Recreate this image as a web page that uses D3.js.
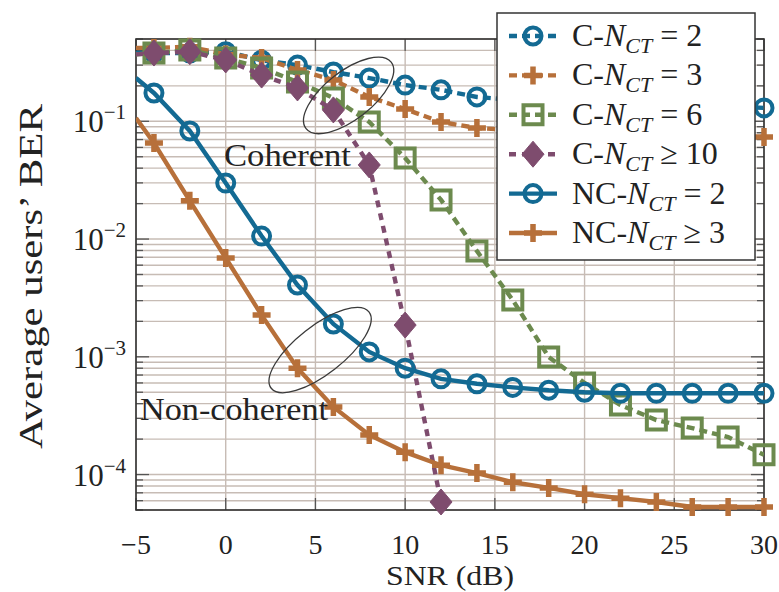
<!DOCTYPE html>
<html>
<head>
<meta charset="utf-8">
<script src="https://cdn.jsdelivr.net/npm/d3@7"></script>
<style>
  body { margin: 0; background: #fff; }
  svg text { font-family: "Liberation Serif", "Times New Roman", serif; fill: #222; }
</style>
</head>
<body>
<svg id="chart" width="779" height="592"></svg>
<script>
// SNR in dB; -5 only carries the lines to the left edge, marks start at -4
var snr = [-5, -4, -2, 0, 2, 4, 6, 8, 10, 12, 14, 16, 18, 20, 22, 24, 26, 28, 30];

// average users' BER
var berC2  = [0.38, 0.38, 0.38, 0.39, 0.33, 0.30, 0.262, 0.233, 0.203, 0.185, 0.161, 0.152, 0.148, 0.145, 0.142, 0.14, 0.138, 0.135, 0.13];
var berC3  = [0.42, 0.42, 0.43, 0.37, 0.345, 0.273, 0.224, 0.161, 0.127, 0.0986, 0.0877, 0.084, 0.081, 0.079, 0.077, 0.076, 0.075, 0.074, 0.0735];
var berC6  = [0.37, 0.38, 0.404, 0.345, 0.284, 0.216, 0.158, 0.0986, 0.0488, 0.0215, 0.0079, 0.00303, 0.000995, 0.0006, 0.00039, 0.00029, 0.000248, 0.000208, 0.000147];
var berC10 = [0.37, 0.38, 0.39, 0.332, 0.247, 0.192, 0.125, 0.0426, 0.00186, 0.0000585, null, null, null, null, null, null, null, null, null];
var berNC2 = [0.233, 0.174, 0.0828, 0.0299, 0.0106, 0.00407, 0.0019, 0.0011, 0.0008, 0.00065, 0.00059, 0.00055, 0.00052, 0.0005, 0.00049, 0.00049, 0.00049, 0.00049, 0.00049];
var berNC3 = [0.1067, 0.0654, 0.0211, 0.0069, 0.00226, 0.0008, 0.000375, 0.000217, 0.000155, 0.00012, 0.000103, 0.000086, 0.000077, 0.000068, 0.000063, 0.0000585, 0.000053, 0.000053, 0.000053];

var legendPrefix = ["C-", "C-", "C-", "C-", "NC-", "NC-"];
var legendRel = ["= 2", "= 3", "= 6", "\u2265 10", "= 2", "\u2265 3"];

var xTicks = [-5, 0, 5, 10, 15, 20, 25, 30];
var yDecades = [1e-4, 1e-3, 1e-2, 1e-1];
var yTickExp = ["\u22124", "\u22123", "\u22122", "\u22121"];

var series = [
  {values: berC2,  color: "#136a93", dash: "8,5", marker: "circle"},
  {values: berC3,  color: "#b7703a", dash: "8,5", marker: "plus"},
  {values: berC6,  color: "#6c8a4e", dash: "8,5", marker: "square"},
  {values: berC10, color: "#7e4c6e", dash: "7,6", marker: "diamond"},
  {values: berNC2, color: "#136a93", dash: null,  marker: "circle"},
  {values: berNC3, color: "#b7703a", dash: null,  marker: "plus"}
];

var L = 136, R = 764, T = 39, B = 510;
var svg = d3.select("#chart");
var x = d3.scaleLinear().domain([-5, 30]).range([L, R]);
var y = d3.scaleLog().domain([5e-5, 0.5]).range([B, T]);

svg.append("rect").attr("width", 779).attr("height", 592).attr("fill", "#fff");

// grid
var gridColor = "#c7bcb5";
svg.append("g").selectAll("line").data(y.ticks()).join("line")
  .attr("x1", L).attr("x2", R)
  .attr("y1", function(d) { return y(d); }).attr("y2", function(d) { return y(d); })
  .attr("stroke", gridColor).attr("stroke-width", 1.4);
svg.append("g").selectAll("line").data(xTicks).join("line")
  .attr("x1", function(d) { return x(d); }).attr("x2", function(d) { return x(d); })
  .attr("y1", T).attr("y2", B)
  .attr("stroke", gridColor).attr("stroke-width", 1.4);

// inward ticks
var isDecade = function(d) { return Math.abs(Math.log10(d) - Math.round(Math.log10(d))) < 1e-6; };
var tickG = svg.append("g").attr("stroke", "#555").attr("stroke-width", 1.3);
y.ticks().forEach(function(d) {
  var len = isDecade(d) ? 13 : 7;
  tickG.append("line").attr("x1", L).attr("x2", L + len).attr("y1", y(d)).attr("y2", y(d));
  tickG.append("line").attr("x1", R).attr("x2", R - len).attr("y1", y(d)).attr("y2", y(d));
});
xTicks.forEach(function(d) {
  tickG.append("line").attr("x1", x(d)).attr("x2", x(d)).attr("y1", B).attr("y2", B - 12);
  tickG.append("line").attr("x1", x(d)).attr("x2", x(d)).attr("y1", T).attr("y2", T + 12);
});

svg.append("rect").attr("x", L).attr("y", T).attr("width", R - L).attr("height", B - T)
  .attr("fill", "none").attr("stroke", "#333").attr("stroke-width", 1.6);

// tick labels
svg.append("g").selectAll("text").data(xTicks).join("text")
  .attr("x", function(d) { return x(d); }).attr("y", 554)
  .attr("text-anchor", "middle").attr("font-size", 28)
  .text(function(d) { return d < 0 ? "\u2212" + Math.abs(d) : d; });

var yl = svg.append("g").selectAll("text").data(yDecades).join("text")
  .attr("x", 126).attr("y", function(d) { return y(d) + 11; })
  .attr("text-anchor", "end").attr("font-size", 31);
yl.append("tspan").text("10");
yl.append("tspan").attr("dy", -13).attr("font-size", 21).text(function(d, i) { return yTickExp[i]; });

svg.append("text").attr("x", 450).attr("y", 585).attr("text-anchor", "middle")
  .attr("font-size", 27).attr("textLength", 128).attr("lengthAdjust", "spacingAndGlyphs").text("SNR (dB)");
svg.append("text").attr("transform", "translate(42," + ((T + B) / 2 + 2) + ") rotate(-90)")
  .attr("text-anchor", "middle").attr("font-size", 33)
  .attr("textLength", 345).attr("lengthAdjust", "spacingAndGlyphs").text("Average users\u2019 BER");

// markers
function markerPath(type) {
  if (type === "circle") return "M8.5,0A8.5,8.5 0 1 1 -8.5,0A8.5,8.5 0 1 1 8.5,0Z";
  if (type === "plus") return "M-9,0H9M0,-9V9";
  if (type === "square") return "M-9.5,-9.5H9.5V9.5H-9.5Z";
  return "M0,-13L11,0L0,13L-11,0Z";
}
function drawMarker(g, type, color) {
  var p = g.append("path").attr("d", markerPath(type));
  if (type === "diamond") p.attr("fill", color).attr("stroke", color).attr("stroke-width", 1);
  else p.attr("fill", "none").attr("stroke", color).attr("stroke-width", type === "plus" ? 5.5 : 4);
}

svg.append("clipPath").attr("id", "plotClip").append("rect")
  .attr("x", L).attr("y", T).attr("width", R - L).attr("height", B - T);

var line = d3.line()
  .defined(function(d) { return d.v != null; })
  .x(function(d) { return x(d.s); })
  .y(function(d) { return y(d.v); });

series.forEach(function(sr) {
  var pts = snr.map(function(s, i) { return {s: s, v: sr.values[i]}; });
  svg.append("path").datum(pts).attr("clip-path", "url(#plotClip)")
    .attr("d", line).attr("fill", "none").attr("stroke", sr.color)
    .attr("stroke-width", 4.4).attr("stroke-dasharray", sr.dash);
  pts.filter(function(d) { return d.s >= -4 && d.v != null; }).forEach(function(d) {
    var g = svg.append("g").attr("transform", "translate(" + x(d.s) + "," + y(d.v) + ")");
    drawMarker(g, sr.marker, sr.color);
  });
});

// annotations
function ellipse(cx, cy, rx, ry, angle) {
  svg.append("ellipse").attr("cx", 0).attr("cy", 0).attr("rx", rx).attr("ry", ry)
    .attr("transform", "translate(" + x(cx) + "," + y(cy) + ") rotate(" + angle + ")")
    .attr("fill", "none").attr("stroke", "#3a3a3a").attr("stroke-width", 1.3);
}
ellipse(6.85, 0.166, 54, 24, -38);
ellipse(5.26, 1.14e-3, 62, 24, -38);
svg.append("text").attr("x", 224).attr("y", 166).attr("font-size", 31)
  .attr("textLength", 127).attr("lengthAdjust", "spacingAndGlyphs").text("Coherent");
svg.append("text").attr("x", 140).attr("y", 420).attr("font-size", 31)
  .attr("textLength", 188).attr("lengthAdjust", "spacingAndGlyphs").text("Non-coherent");

// legend
var lg = svg.append("g");
lg.append("rect").attr("x", 497).attr("y", 13).attr("width", 258).attr("height", 247)
  .attr("fill", "#fff").attr("stroke", "#333").attr("stroke-width", 1.5);
series.forEach(function(sr, i) {
  var ry = 36 + i * 39.4;
  lg.append("line").attr("x1", 509).attr("x2", 557).attr("y1", ry).attr("y2", ry)
    .attr("stroke", sr.color).attr("stroke-width", 4.4).attr("stroke-dasharray", sr.dash);
  drawMarker(lg.append("g").attr("transform", "translate(533," + ry + ")"), sr.marker, sr.color);
  var t = lg.append("text").attr("x", 572).attr("y", ry + 10).attr("font-size", 32);
  t.append("tspan").text(legendPrefix[i]);
  t.append("tspan").attr("font-style", "italic").text("N");
  t.append("tspan").attr("font-style", "italic").attr("font-size", 22).attr("dy", 7).text("CT");
  t.append("tspan").attr("dy", -7).text(" " + legendRel[i]);
});
</script>
</body>
</html>
